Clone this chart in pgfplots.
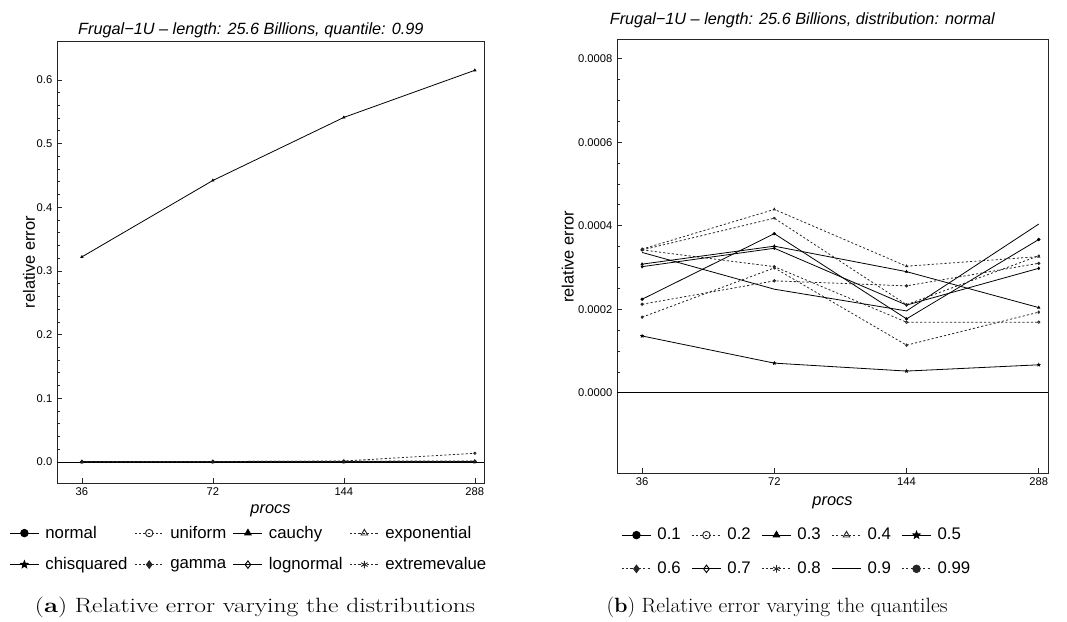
\documentclass[border=0pt]{standalone}
\usepackage{fontspec}
\usepackage{pgfplots}
\usepackage{pgfplotstable}
\usepackage{graphicx}
\pgfplotsset{compat=1.18}
\newfontfamily\sans{Liberation Sans}
\newcommand\lf{\sans\fontsize{12.6}{14}\selectfont}

\pgfdeclareplotmark{fstar}{%
  \pgfpathmoveto{\pgfpointpolar{90}{\pgfplotmarksize}}%
  \pgfpathlineto{\pgfpointpolar{126}{0.42\pgfplotmarksize}}%
  \pgfpathlineto{\pgfpointpolar{162}{\pgfplotmarksize}}%
  \pgfpathlineto{\pgfpointpolar{198}{0.42\pgfplotmarksize}}%
  \pgfpathlineto{\pgfpointpolar{234}{\pgfplotmarksize}}%
  \pgfpathlineto{\pgfpointpolar{270}{0.42\pgfplotmarksize}}%
  \pgfpathlineto{\pgfpointpolar{306}{\pgfplotmarksize}}%
  \pgfpathlineto{\pgfpointpolar{342}{0.42\pgfplotmarksize}}%
  \pgfpathlineto{\pgfpointpolar{18}{\pgfplotmarksize}}%
  \pgfpathlineto{\pgfpointpolar{54}{0.42\pgfplotmarksize}}%
  \pgfpathclose
  \pgfusepathqfillstroke
}

\pgfplotstableread{
x  normal   uniform  cauchy  exponential chisquared gamma   lognormal extremevalue
0  0.000212 0.0005   0.322   0.0004      0.0003     0.0006  0.0004    0.0005
1  0.000268 0.0007   0.442   0.0005      0.0004     0.0008  0.0005    0.0006
2  0.000256 0.0015   0.541   0.0006      0.0004     0.0012  0.0006    0.0009
3  0.000310 0.0136   0.615   0.0008      0.0005     0.0015  0.0007    0.0010
}\leftdata

\pgfplotstableread{
x  q01      q02      q03      q04      q05      q06      q07      q08      q09      q099
0  0.000224 0.000342 0.000308 0.000344 0.000136 0.000181 0.000302 0.000342 0.000336 0.000212
1  0.000381 0.000302 0.000351 0.000439 0.000071 0.000299 0.000346 0.000418 0.000248 0.000268
2  0.000177 0.000169 0.000290 0.000303 0.000052 0.000114 0.000210 0.000211 0.000196 0.000256
3  0.000367 0.000169 0.000204 0.000326 0.000067 0.000193 0.000298 0.000328 0.000404 0.000310
}\rightdata

\pgfplotsset{
  solidl/.style={black, line width=0.6pt, mark size=0.9pt, mark options={solid}},
  dotl/.style={black!85, line width=0.6pt, dash pattern=on 1.6pt off 1.6pt, mark size=0.9pt, mark options={solid}},
  common/.style={
    scale only axis,
    tick pos=left,
    tick align=inside,
    axis line style={line width=0.6pt, black!85},
    every tick/.style={black!85, line width=0.5pt},
    major tick length=4pt,
    minor tick length=2pt,
    xtick={0,1,2,3},
    xticklabels={36,72,144,288},
    xmin=-0.19, xmax=3.07,
    ticklabel style={font=\sans\fontsize{8.4}{9}\selectfont},
    /pgf/number format/assume math mode=true,
    label style={font=\sans\fontsize{12.3}{14}\selectfont},
    xlabel={\itshape procs},
    ylabel={relative error},
    every axis title shift=0pt,
    legend cell align=left,
    legend style={draw=none, fill=none, anchor=center, row sep=9pt,
      /tikz/every odd column/.append style={column sep=2.5pt},
      /tikz/every even column/.append style={column sep=3pt}},
    legend image code/.code={\draw[mark repeat=2,mark phase=2,##1, line width=0.7pt, mark size=2.8pt]
      plot coordinates {(0pt,0pt)(10.9pt,0pt)(21.8pt,0pt)};},
  },
}

\begin{document}
\begin{tikzpicture}
\path[use as bounding box] (0,0) rectangle (800.25pt,465.75pt);

\begin{axis}[common,
  at={(42.75pt,435pt)}, anchor=north west,
  width=320.25pt, height=331.5pt,
  ymin=-0.033, ymax=0.661,
  ytick={0,0.1,0.2,0.3,0.4,0.5,0.6},
  minor y tick num=4,
  yticklabel style={/pgf/number format/.cd, fixed, fixed zerofill, precision=1},
  xlabel style={at={(axis description cs:0.5,-0.063)}, anchor=center},
  ylabel style={at={(axis description cs:-0.0656,0.5)}, anchor=center, rotate=0},
  title={Frugal−1U – length: 25.6 Billions, quantile: 0.99},
  title style={font=\sans\itshape\fontsize{12.2}{14}\selectfont, at={(axis description cs:0.454,1.025)}, anchor=center},
  legend columns=4,
  legend style={at={(axis description cs:0.45,-0.149)}},
]
\addplot[black, line width=0.5pt, forget plot] coordinates {(-0.19,0) (3.07,0)};
\addplot[solidl, mark=*] table[x=x, y=normal] {\leftdata};
\addlegendentry{\lf normal}
\addplot[dotl, mark=o] table[x=x, y=uniform] {\leftdata};
\addlegendentry{\lf uniform}
\addplot[solidl, mark=triangle*] table[x=x, y=cauchy] {\leftdata};
\addlegendentry{\lf cauchy}
\addplot[dotl, mark=triangle] table[x=x, y=exponential] {\leftdata};
\addlegendentry{\lf exponential}
\addplot[solidl, mark=fstar] table[x=x, y=chisquared] {\leftdata};
\addlegendentry{\lf chisquared}
\addplot[dotl, mark=diamond*] table[x=x, y=gamma] {\leftdata};
\addlegendentry{\lf gamma}
\addplot[solidl, mark=diamond, mark options={fill=white}] table[x=x, y=lognormal] {\leftdata};
\addlegendentry{\lf lognormal}
\addplot[dotl, mark=asterisk] table[x=x, y=extremevalue] {\leftdata};
\addlegendentry{\lf extremevalue}
\end{axis}

\begin{axis}[common,
  at={(462.75pt,436.5pt)}, anchor=north west,
  width=323.25pt, height=325.5pt,
  ymin=-0.000192, ymax=0.000847,
  ytick={0,0.0002,0.0004,0.0006,0.0008},
  minor y tick num=3,
  scaled y ticks=false,
  yticklabel style={/pgf/number format/.cd, fixed, fixed zerofill, precision=4},
  xlabel style={at={(axis description cs:0.5,-0.069)}, anchor=center},
  ylabel style={at={(axis description cs:-0.114,0.498)}, anchor=center, rotate=0},
  title={Frugal−1U – length: 25.6 Billions, distribution: normal},
  title style={font=\sans\itshape\fontsize{12.2}{14}\selectfont, at={(axis description cs:0.43,1.044)}, anchor=center},
  legend columns=5,
  legend style={at={(axis description cs:0.418,-0.182)}, row sep=11pt,
    /tikz/every even column/.append style={column sep=6pt}},
]
\addplot[black, line width=0.5pt, forget plot] coordinates {(-0.19,0) (3.07,0)};
\addplot[solidl, mark=*] table[x=x, y=q01] {\rightdata};
\addlegendentry{\lf 0.1}
\addplot[dotl, mark=o] table[x=x, y=q02] {\rightdata};
\addlegendentry{\lf 0.2}
\addplot[solidl, mark=triangle*] table[x=x, y=q03] {\rightdata};
\addlegendentry{\lf 0.3}
\addplot[dotl, mark=triangle] table[x=x, y=q04] {\rightdata};
\addlegendentry{\lf 0.4}
\addplot[solidl, mark=fstar] table[x=x, y=q05] {\rightdata};
\addlegendentry{\lf 0.5}
\addplot[dotl, mark=diamond*] table[x=x, y=q06] {\rightdata};
\addlegendentry{\lf 0.6}
\addplot[solidl, mark=diamond, mark options={fill=white}] table[x=x, y=q07] {\rightdata};
\addlegendentry{\lf 0.7}
\addplot[dotl, mark=asterisk] table[x=x, y=q08] {\rightdata};
\addlegendentry{\lf 0.8}
\addplot[solidl, no marks] table[x=x, y=q09] {\rightdata};
\addlegendentry{\lf 0.9}
\addplot[dotl, mark=*] table[x=x, y=q099] {\rightdata};
\addlegendentry{\lf 0.99}
\end{axis}

\node at (191.25pt,10.5pt) {\resizebox{330pt}{\height}{\fontsize{15.5}{17}\selectfont (\textbf{a}) Relative error varying the distributions}};
\node at (582.75pt,10.5pt) {\resizebox{255.75pt}{\height}{\fontsize{15.5}{17}\selectfont (\textbf{b}) Relative error varying the quantiles}};
\end{tikzpicture}
\end{document}
